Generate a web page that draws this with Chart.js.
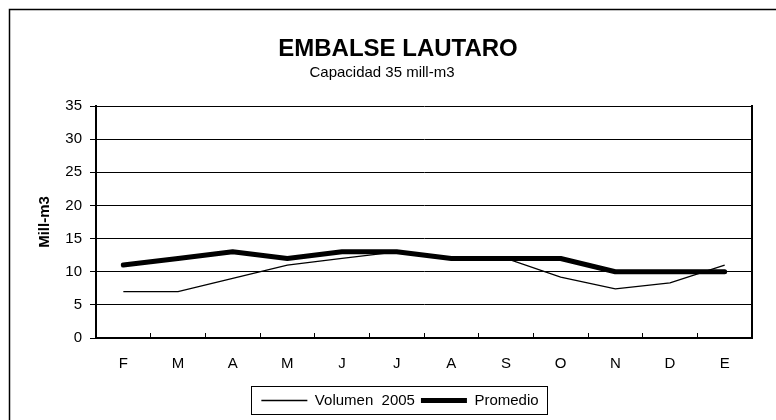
<!DOCTYPE html>
<html><head><meta charset="utf-8">
<script src="https://cdn.jsdelivr.net/npm/chart.js@4.4.1/dist/chart.umd.min.js"></script>
<style>html,body{margin:0;padding:0;background:#fff}canvas{display:block}</style>
</head><body>
<canvas id="c" width="776" height="420"></canvas>
<script>
const months = ['F','M','A','M','J','J','A','S','O','N','D','E'];
const volumen2005 = [7, 7, 9, 11, 12, 13, 12, 12, 9.2, 7.4, 8.3, 11];
const promedio = [11, 12, 13, 12, 13, 13, 12, 12, 12, 10, 10, 10];
const yMin = 0, yMax = 35, yStep = 5;
const chartTitle = 'EMBALSE LAUTARO';
const chartSubtitle = 'Capacidad 35 mill-m3';
const yTitle = 'Mill-m3';
const seriesNames = ['Volumen  2005', 'Promedio'];
const FONT = 'Arial, "Liberation Sans", sans-serif';

const decor = {
  id: 'decor',
  beforeDraw(chart) {
    const ctx = chart.ctx;
    ctx.save();
    ctx.fillStyle = '#fff';
    ctx.fillRect(0, 0, chart.width, chart.height);
    ctx.strokeStyle = '#000';
    ctx.lineWidth = 1.5;
    ctx.strokeRect(9.5, 9.5, chart.width + 20, chart.height + 20);
    ctx.restore();
  },
  afterDraw(chart) {
    const ctx = chart.ctx;
    ctx.save();
    ctx.fillStyle = '#000';
    ctx.textAlign = 'center';
    ctx.textBaseline = 'alphabetic';
    ctx.font = 'bold 24px ' + FONT;
    ctx.fillText(chartTitle, 398, 56);
    ctx.font = '15px ' + FONT;
    ctx.fillText(chartSubtitle, 382, 77);
    const hb = chart.legend.legendHitBoxes;
    if (hb && hb.length) {
      const l = hb[0].left - 10;
      const last = hb[hb.length - 1];
      const r = last.left + last.width + 9;
      const t = hb[0].top - 7;
      const b = hb[0].top + hb[0].height + 6;
      ctx.strokeStyle = '#000';
      ctx.lineWidth = 1;
      ctx.strokeRect(Math.round(l) + 0.5, Math.round(t) + 0.5, Math.round(r - l), Math.round(b - t));
    }
    ctx.restore();
  }
};

new Chart(document.getElementById('c'), {
  type: 'line',
  data: {
    labels: months,
    datasets: [
      { label: seriesNames[0], data: volumen2005, borderColor: '#000', backgroundColor: '#000',
        borderWidth: 1.3, pointRadius: 0, pointStyle: 'line', tension: 0, order: 1 },
      { label: seriesNames[1], data: promedio, borderColor: '#000', backgroundColor: '#000',
        borderWidth: 5, pointRadius: 0, pointStyle: 'line', tension: 0, order: 2,
        borderCapStyle: 'round', borderJoinStyle: 'round' }
    ]
  },
  options: {
    responsive: false,
    animation: false,
    devicePixelRatio: 1,
    layout: { padding: { left: 24, right: 0, top: 106, bottom: 2 } },
    plugins: {
      title: { display: false },
      tooltip: { enabled: false },
      legend: {
        display: true,
        position: 'bottom',
        labels: {
          usePointStyle: true, pointStyleWidth: 46, color: '#000',
          font: { family: FONT, size: 15 }, padding: 6
        }
      }
    },
    scales: {
      x: {
        type: 'category',
        offset: true,
        grid: { display: true, drawOnChartArea: false, drawTicks: true, tickLength: -5, color: '#000', lineWidth: 1, offset: true },
        border: { display: true, color: '#000', width: 2 },
        ticks: { color: '#000', font: { family: FONT, size: 15 }, padding: 22, maxRotation: 0, autoSkip: false },
        afterFit(s) { s.height = 49; }
      },
      y: {
        type: 'linear',
        position: 'left',
        min: yMin, max: yMax,
        ticks: { stepSize: yStep, color: '#000', font: { family: FONT, size: 15 }, padding: 8 },
        grid: { color: '#000', lineWidth: 1, tickLength: 6, drawTicks: true },
        border: { display: true, color: '#000', width: 2 },
        title: { display: true, text: yTitle, color: '#000', font: { family: FONT, size: 15, weight: 'bold' }, padding: { top: 12, bottom: 0 } },
        afterFit(s) { s.width = 72; }
      },
      yR: {
        type: 'linear',
        position: 'right',
        display: true,
        grid: { display: false, drawTicks: false },
        ticks: { display: false },
        border: { display: true, color: '#000', width: 2 },
        afterFit(s) { s.width = 24; }
      }
    }
  },
  plugins: [decor]
});
</script>
</body></html>
